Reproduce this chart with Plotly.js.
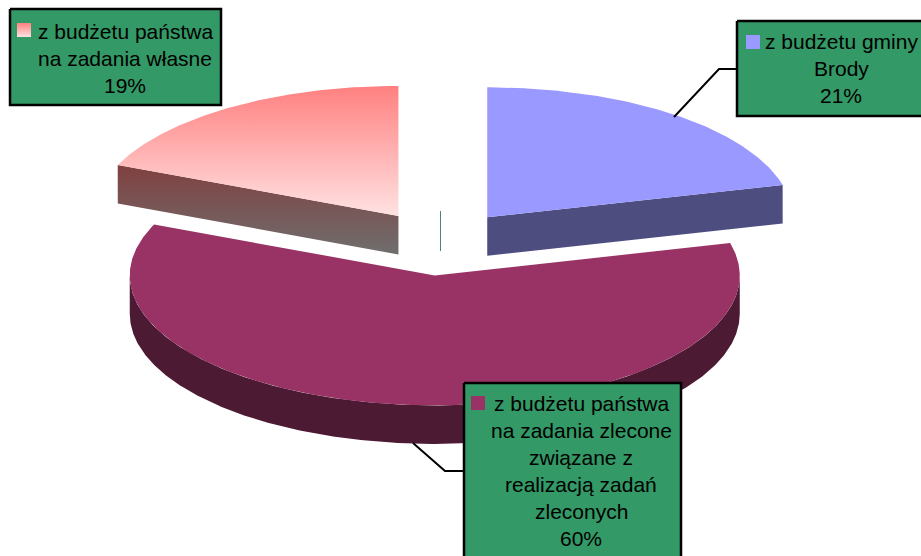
<!DOCTYPE html>
<html><head><meta charset="utf-8">
<script src="https://cdn.plot.ly/plotly-3.0.1.min.js"></script>
<style>html,body{margin:0;padding:0;background:#fff;overflow:hidden}#c{width:921px;height:556px}</style>
</head><body><div id="c"></div>
<script>
// ---- data ----
const categories = ["z budżetu gminy Brody", "z budżetu państwa na zadania zlecone związane z realizacją zadań zleconych", "z budżetu państwa na zadania własne"];
const shares = [21, 60.4, 18.6];
const labelLines = [
  ["z budżetu gminy", "Brody"],
  ["z budżetu państwa", "na zadania zlecone", "związane z", "realizacją zadań", "zleconych"],
  ["z budżetu państwa", "na zadania własne"]
];
// ---- styles ----
const topFill = [["#9999ff","#9999ff"], ["#993366","#993366"], ["#ff8080","#ffe2e2"]];
const wallFill = [["#4d4d80","#4d4d80"], ["#4d1a33","#4d1a33"], ["#804040","#706e6e"]];
const boxColor = "#339966";
// ---- layout geometry (axes run in page pixels) ----
const centre = [440.5, 243], rx = 305, ry = 130, depth = 38.5, explode = 0.25;
const boxes = [[737,21,930,116],[464,383,681,565],[10,9,221,105]];
const keyPos = [[746,35],[471,396],[17,23]];
const keySize = 14;
const textCentre = [841,581,125], textTop = [41,403,31], lineStep = [27,27,27];
const leaders = [[[674,117],[719,69],[737,69]], [[413,443],[445,471],[464,471]]];
const seam = [[440.5,211],[440.5,251]];

const rad = d => d*Math.PI/180;
const total = shares.reduce((a,b)=>a+b,0);
let acc = 0;
const slices = shares.map(v => { const s = acc/total*360; acc += v; return {a0:s, a1:acc/total*360}; });
slices.forEach(s => {
  const m = rad((s.a0+s.a1)/2);
  s.cx = centre[0] + explode*rx*Math.sin(m);
  s.cy = centre[1] - explode*ry*Math.cos(m);
});
const pt = (s,a,dy=0) => [s.cx + rx*Math.sin(rad(a)), s.cy - ry*Math.cos(rad(a)) + dy];
function arc(s,a0,a1,dy=0){ const o=[]; const n=Math.max(2,Math.ceil(Math.abs(a1-a0)*2));
  for(let i=0;i<=n;i++) o.push(pt(s,a0+(a1-a0)*i/n,dy)); return o; }

function poly(points, fills, line){
  const t = {type:"scatter", mode:"lines", x:points.map(p=>p[0]), y:points.map(p=>p[1]),
    fill:"toself", hoverinfo:"skip", line: line || {width:0}, showlegend:false};
  if (fills[0]===fills[1]) t.fillcolor = fills[0];
  else { t.fillcolor = fills[0]; t.fillgradient = {type:"vertical", colorscale:[[0,fills[1]],[1,fills[0]]]}; }
  return t;
}
const path = (points, color, width) => ({type:"scatter", mode:"lines", x:points.map(p=>p[0]), y:points.map(p=>p[1]),
  hoverinfo:"skip", line:{color:color,width:width}, showlegend:false});

const traces = [];
const [sBlue, sMain, sPink] = slices;
traces.push(poly(arc(sMain,90,270).concat(arc(sMain,270,90,depth)), wallFill[1]));
traces.push(poly([[sMain.cx,sMain.cy]].concat(arc(sMain,sMain.a0,sMain.a1)), topFill[1]));
{
  const rim = pt(sPink,sPink.a0), ap=[sPink.cx,sPink.cy];
  traces.push(poly([ap,rim,[rim[0],rim[1]+depth],[ap[0],ap[1]+depth]], wallFill[2]));
  traces.push(poly([ap].concat(arc(sPink,sPink.a0,sPink.a1)), topFill[2]));
}
{
  const rim = pt(sBlue,sBlue.a1), ap=[sBlue.cx,sBlue.cy];
  traces.push(poly([ap,rim,[rim[0],rim[1]+depth],[ap[0],ap[1]+depth]], wallFill[0]));
  traces.push(poly([ap].concat(arc(sBlue,sBlue.a0,sBlue.a1)), topFill[0]));
}
traces.push(path(seam,"#4f7f7f",1));
leaders.forEach(l => traces.push(path(l,"#000",2)));

const annotations = [];
boxes.forEach((b,i) => {
  traces.push(poly([[b[0],b[1]],[b[2],b[1]],[b[2],b[3]],[b[0],b[3]],[b[0],b[1]]], [boxColor,boxColor], {color:"#000",width:2.5}));
  const k = keyPos[i];
  traces.push(poly([[k[0],k[1]],[k[0]+keySize,k[1]],[k[0]+keySize,k[1]+keySize],[k[0],k[1]+keySize]], topFill[i]));
  labelLines[i].concat([Math.round(shares[i])+"%"]).forEach((txt,j) => annotations.push({
    x:textCentre[i], y:textTop[i]+j*lineStep[i], xref:"x", yref:"y", text:txt, showarrow:false,
    xanchor:"center", yanchor:"middle", font:{family:"Liberation Sans, Arial, sans-serif", size:21, color:"#000"}
  }));
});

Plotly.newPlot("c", traces, {
  width:921, height:556, margin:{l:0,r:0,t:0,b:0,pad:0},
  paper_bgcolor:"#fff", plot_bgcolor:"#fff", showlegend:false,
  xaxis:{range:[0,921],visible:false,fixedrange:true},
  yaxis:{range:[556,0],visible:false,fixedrange:true},
  annotations
}, {displayModeBar:false, staticPlot:true});
</script></body></html>
